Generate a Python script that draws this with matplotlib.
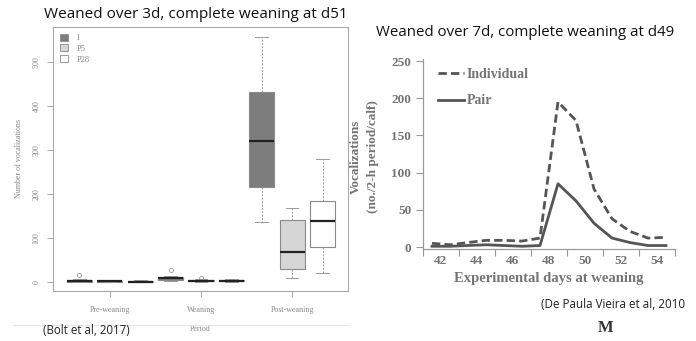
import numpy as np
import matplotlib
matplotlib.use("Agg")
import matplotlib.pyplot as plt
from matplotlib.lines import Line2D
from matplotlib.patches import Patch

# Left panel: Bolt et al 2017 boxplots (number of vocalizations)
periods = ["Pre-weaning", "Weaning", "Post-weaning"]
groups = ["I", "P5", "P28"]
# (whislo, q1, med, q3, whishi) per period
stats_I = [(0, 1, 2, 4, 6), (3, 5, 8, 12, 14), (137, 216, 320, 432, 557)]
stats_P5 = [(0, 1, 2, 3, 4), (1, 2, 3, 5, 6), (8, 30, 68, 140, 168)]
stats_P28 = [(0, 1, 1, 3, 4), (1, 2, 3, 5, 6), (21, 80, 139, 185, 279)]
fliers_I = [[15], [28], []]
fliers_P5 = [[], [8], []]
fliers_P28 = [[], [], []]
left_yticks = [0, 100, 200, 300, 400, 500]

# Right panel: De Paula Vieira et al 2010 line chart
days = [41.5, 42.5, 43.5, 44.5, 45.5, 46.5, 47.5, 48.5, 49.5, 50.5, 51.5, 52.5, 53.5, 54.5]
individual = [5, 3, 6, 9, 9, 8, 12, 195, 170, 78, 38, 21, 12, 13]
pair = [1, 1, 2, 3, 2, 1, 2, 85, 62, 32, 12, 6, 2, 2]
day_labels = [42, 44, 46, 48, 50, 52, 54]
right_yticks = [0, 50, 100, 150, 200, 250]

fig = plt.figure(figsize=(6.96, 3.41), dpi=100)
W, H = 696, 341

def px_axes(x0, y0, x1, y1):
    return fig.add_axes([x0 / W, 1 - y1 / H, (x1 - x0) / W, (y1 - y0) / H])

serif = "Liberation Serif"
sans = "Open Sans"

# ---- left panel ----
axl = px_axes(53, 27, 348, 291)
colors = {"I": "#7d7d7d", "P5": "#d6d6d6", "P28": "#ffffff"}
offsets = {"I": -0.335, "P5": 0.0, "P28": 0.335}
all_stats = {"I": (stats_I, fliers_I), "P5": (stats_P5, fliers_P5), "P28": (stats_P28, fliers_P28)}
for g in groups:
    st, fl = all_stats[g]
    bxp_stats = []
    for (lo, q1, med, q3, hi), f in zip(st, fl):
        bxp_stats.append(dict(whislo=lo, q1=q1, med=med, q3=q3, whishi=hi, fliers=f))
    pos = [i + 1 + offsets[g] for i in range(len(periods))]
    axl.bxp(bxp_stats, positions=pos, widths=0.275, patch_artist=True,
            boxprops=dict(facecolor=colors[g], edgecolor="#8a8a8a", linewidth=0.8),
            whiskerprops=dict(color="#9a9a9a", linestyle=(0, (2, 1.5)), linewidth=0.7),
            capprops=dict(color="#9a9a9a", linewidth=0.7),
            medianprops=dict(color="#222222", linewidth=1.6),
            flierprops=dict(marker="o", markersize=3, markerfacecolor="none",
                            markeredgecolor="#999999", markeredgewidth=0.6),
            manage_ticks=False)

axl.set_xlim(0.374, 3.615)
axl.set_ylim(-20.5, 579.5)
axl.set_xticks([1, 2, 3])
axl.set_xticklabels(periods, fontsize=5.8, family=serif, color="#888888")
axl.set_yticks(left_yticks)
axl.set_yticklabels([str(v) for v in left_yticks], fontsize=5.8, family=serif,
                    color="#888888", rotation=90, va="center")
axl.tick_params(axis="both", colors="#9a9a9a", length=4, width=0.6, labelcolor="#888888")
axl.tick_params(axis="x", pad=7)
axl.tick_params(axis="y", pad=5)
for s in axl.spines.values():
    s.set_color("#a8a8a8")
    s.set_linewidth(0.8)
axl.set_ylabel("Number of vocalizations", fontsize=5.8, family=serif, color="#888888", labelpad=7)
axl.set_xlabel("Period", fontsize=5.8, family=serif, color="#888888", labelpad=8)

handles = [Patch(facecolor=colors[g], edgecolor="#8a8a8a", linewidth=0.6) for g in groups]
leg = axl.legend(handles, groups, loc="upper left", frameon=False,
                 handlelength=1.0, handleheight=0.9, handletextpad=1.0, labelspacing=0.3,
                 borderaxespad=0.4, prop=dict(family=serif, size=6))
for t in leg.get_texts():
    t.set_color("#888888")

fig.text(196 / W, 1 - 14 / H, "Weaned over 3d, complete weaning at d51", ha="center", va="center",
         fontsize=11, family=sans, color="#111111")
fig.add_artist(Line2D([13 / W, 348 / W], [1 - 325 / H, 1 - 325 / H], color="#e4e4e4", linewidth=0.8))
fig.text(43 / W, 1 - 331 / H, "(Bolt et al, 2017)", ha="left", va="center",
         fontsize=8.3, family=sans, color="#222222")

# ---- right panel ----
axr = px_axes(423, 58.8, 675, 248.5)
axr.plot(days, individual, color="#555555", linestyle=(0, (3, 1.5)), linewidth=2.0, label="Individual")
axr.plot(days, pair, color="#555555", linestyle="-", linewidth=2.0, label="Pair")
axr.set_xlim(41, 55)
axr.set_ylim(-2, 253)
axr.set_xticks(np.arange(41, 56, 2))
axr.set_xticklabels([])
axr.set_xticks(day_labels, minor=True)
axr.set_xticklabels([str(d) for d in day_labels], minor=True)
axr.tick_params(axis="x", which="minor", length=0, pad=5)
axr.set_yticks(right_yticks)
for lab in axr.get_xticklabels(minor=True) + axr.get_yticklabels():
    lab.set_fontfamily(serif)
    lab.set_fontsize(9.5)
    lab.set_fontweight("bold")
axr.tick_params(axis="both", which="major", colors="#9a9a9a", length=5, width=0.8,
                labelcolor="#747474")
axr.tick_params(axis="x", which="minor", labelcolor="#747474")
for side in ["top", "right"]:
    axr.spines[side].set_visible(False)
for side in ["left", "bottom"]:
    axr.spines[side].set_color("#9a9a9a")
    axr.spines[side].set_linewidth(0.9)
axr.set_xlabel("Experimental days at weaning", fontsize=10.5, family=serif, weight="bold",
               color="#747474", labelpad=3)
fig.text(373 / W, 1 - 157 / H, "(no./2-h period/calf)", rotation=90, ha="center", va="center",
         fontsize=9.5, family=serif, weight="bold", color="#747474")
fig.text(356 / W, 1 - 157 / H, "Vocalizations", rotation=90, ha="center", va="center",
         fontsize=9.5, family=serif, weight="bold", color="#747474")
leg2 = axr.legend(loc="upper left", bbox_to_anchor=(432 / W, 1 - 62 / H),
                  bbox_transform=fig.transFigure, frameon=False, handlelength=1.9,
                  handletextpad=0.2, labelspacing=1.0, borderaxespad=0,
                  prop=dict(family=serif, size=10, weight="bold"))
for t in leg2.get_texts():
    t.set_color("#747474")

fig.text(525 / W, 1 - 32 / H, "Weaned over 7d, complete weaning at d49", ha="center", va="center",
         fontsize=10.8, family=sans, color="#111111")
fig.text(685 / W, 1 - 305 / H, "(De Paula Vieira et al, 2010", ha="right", va="center",
         fontsize=8.4, family=sans, color="#222222")
fig.text(606 / W, 1 - 328 / H, "M", ha="center", va="center", fontsize=12,
         family=serif, weight="heavy", color="#333333")

fig.savefig("out.png", dpi=100)
